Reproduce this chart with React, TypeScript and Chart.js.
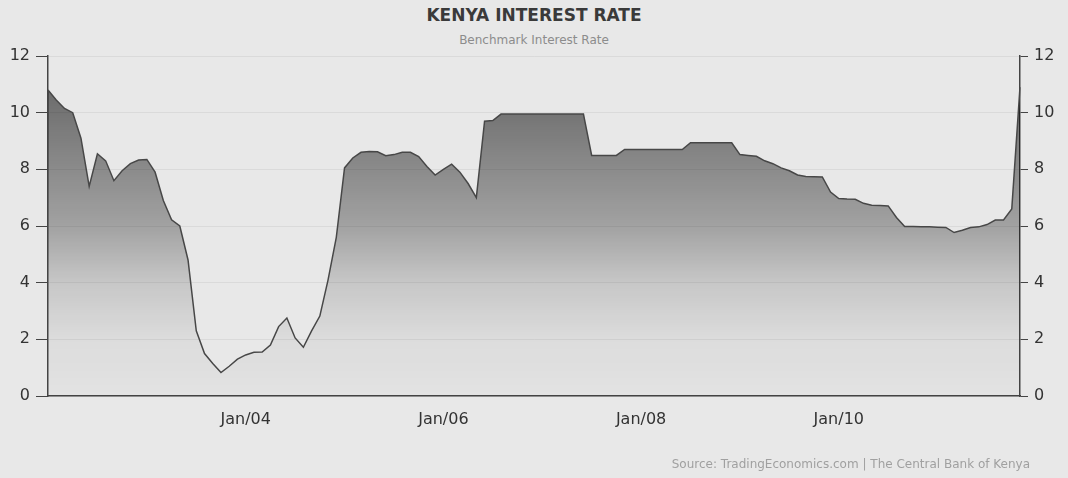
import React, { useEffect, useRef } from "react";
import { Chart, registerables } from "chart.js";

Chart.register(...registerables);

// Monthly observations, Jan 2002 .. Nov 2011
const startYear = 2002;
const monthNames = ["Jan", "Feb", "Mar", "Apr", "May", "Jun", "Jul", "Aug", "Sep", "Oct", "Nov", "Dec"];

const rateValues: number[] = [
  10.8, 10.45, 10.15, 10.0, 9.1, 7.4, 8.55, 8.3, 7.6, 7.95, 8.2, 8.33,
  8.35, 7.9, 6.9, 6.22, 6.0, 4.8, 2.3, 1.5, 1.15, 0.83, 1.05, 1.3,
  1.45, 1.54, 1.55, 1.8, 2.45, 2.75, 2.05, 1.72, 2.3, 2.82, 4.1, 5.6,
  8.05, 8.4, 8.6, 8.63, 8.62, 8.48, 8.52, 8.6, 8.6, 8.45, 8.1, 7.8,
  8.0, 8.18, 7.9, 7.5, 7.0, 9.7, 9.72, 9.95, 9.95, 9.95, 9.95, 9.95,
  9.95, 9.95, 9.95, 9.95, 9.95, 9.95, 8.49, 8.49, 8.49, 8.49, 8.7, 8.7,
  8.7, 8.7, 8.7, 8.7, 8.7, 8.7, 8.94, 8.94, 8.94, 8.94, 8.94, 8.94,
  8.52, 8.49, 8.46, 8.3, 8.2, 8.05, 7.95, 7.8, 7.75, 7.74, 7.73, 7.2,
  6.97, 6.95, 6.94, 6.8, 6.73, 6.72, 6.71, 6.3, 5.98, 5.98, 5.97, 5.97,
  5.96, 5.95, 5.77, 5.85, 5.95, 5.97, 6.05, 6.21, 6.21, 6.6, 10.9,
];

const monthLabels: string[] = rateValues.map((_, i) => {
  const y = startYear + Math.floor(i / 12);
  return monthNames[i % 12] + "/" + String(y % 100).padStart(2, "0");
});

const xTickLabels = ["Jan/04", "Jan/06", "Jan/08", "Jan/10"];
const yTicks = { min: 0, max: 12, step: 2 };

const titleText = "KENYA INTEREST RATE";
const subtitleText = "Benchmark Interest Rate";
const sourceText = "Source: TradingEconomics.com | The Central Bank of Kenya";

const W = 1068;
const H = 478;
const FONT = "'DejaVu Sans', Verdana, sans-serif";

export default function App() {
  const canvasRef = useRef<HTMLCanvasElement | null>(null);

  useEffect(() => {
    const canvas = canvasRef.current;
    if (!canvas) return;
    const isShown = (i: number) => xTickLabels.includes(monthLabels[i]);

    const chart = new Chart(canvas, {
      type: "line",
      data: {
        labels: monthLabels,
        datasets: [
          {
            data: rateValues,
            borderColor: "#474747",
            borderWidth: 1.5,
            pointRadius: 0,
            tension: 0,
            fill: "origin",
            backgroundColor: (ctx: any) => {
              const c = ctx.chart;
              const ca = c.chartArea;
              if (!ca) return "rgba(0,0,0,0.3)";
              const g = c.ctx.createLinearGradient(0, ca.top, 0, ca.bottom);
              g.addColorStop(0, "rgba(0,0,0,0.58)");
              g.addColorStop(0.16, "rgba(0,0,0,0.5)");
              g.addColorStop(0.5, "rgba(0,0,0,0.3)");
              g.addColorStop(0.667, "rgba(0,0,0,0.14)");
              g.addColorStop(0.83, "rgba(0,0,0,0.05)");
              g.addColorStop(1, "rgba(0,0,0,0.02)");
              return g;
            },
          },
        ],
      },
      options: {
        responsive: false,
        animation: false,
        devicePixelRatio: 1,
        layout: { padding: { top: 56, bottom: 42, left: 0, right: 0 } },
        plugins: {
          legend: { display: false },
          tooltip: { enabled: false },
          title: { display: false },
        },
        scales: {
          x: {
            type: "category",
            offset: false,
            grid: {
              color: (c: any) => (isShown(c.index) ? "rgba(0,0,0,0.06)" : "transparent"),
              tickColor: (c: any) => (isShown(c.index) ? "#444" : "transparent"),
              tickLength: 6,
              lineWidth: 1,
            },
            border: { display: true, color: "#444", width: 1.5 },
            ticks: {
              autoSkip: false,
              maxRotation: 0,
              minRotation: 0,
              padding: 8,
              color: "#333",
              font: { family: FONT, size: 16 },
              callback: (_v: any, i: number) => (isShown(i) ? monthLabels[i] : null),
            },
            afterFit: (s: any) => {
              s.height = 40;
            },
          },
          y: {
            position: "left",
            min: yTicks.min,
            max: yTicks.max,
            grid: {
              color: "rgba(0,0,0,0.06)",
              tickColor: "#444",
              tickLength: 12,
              lineWidth: 1,
            },
            border: { display: true, color: "#444", width: 1.5 },
            ticks: {
              stepSize: yTicks.step,
              padding: 6,
              color: "#333",
              font: { family: FONT, size: 16 },
            },
            afterFit: (s: any) => {
              s.width = 48;
            },
          },
          y2: {
            position: "right",
            min: yTicks.min,
            max: yTicks.max,
            grid: {
              drawOnChartArea: false,
              tickColor: "#444",
              tickLength: 8,
            },
            border: { display: true, color: "#444", width: 1.5 },
            ticks: {
              stepSize: yTicks.step,
              padding: 6,
              color: "#333",
              font: { family: FONT, size: 16 },
            },
            afterFit: (s: any) => {
              s.width = 48;
            },
          },
        },
      },
    });
    return () => chart.destroy();
  }, []);

  return (
    <div
      style={{
        position: "fixed",
        left: 0,
        top: 0,
        width: W,
        height: H,
        background: "#e8e8e8",
        overflow: "hidden",
      }}
    >
      <div
        style={{
          position: "absolute",
          left: 0,
          top: 5,
          width: W,
          textAlign: "center",
          fontFamily: FONT,
          fontWeight: "bold",
          fontSize: 17,
          lineHeight: "20px",
          color: "#3a3a3a",
        }}
      >
        {titleText}
      </div>
      <div
        style={{
          position: "absolute",
          left: 0,
          top: 32,
          width: W,
          textAlign: "center",
          fontFamily: FONT,
          fontSize: 12,
          lineHeight: "16px",
          color: "#8c8c8c",
        }}
      >
        {subtitleText}
      </div>
      <canvas
        ref={canvasRef}
        width={W}
        height={H}
        style={{ position: "absolute", left: 0, top: 0, width: W, height: H }}
      />
      <div
        style={{
          position: "absolute",
          right: W - 1030,
          top: 456,
          fontFamily: FONT,
          fontSize: 12,
          lineHeight: "16px",
          color: "#a0a0a0",
          whiteSpace: "nowrap",
        }}
      >
        {sourceText}
      </div>
    </div>
  );
}
